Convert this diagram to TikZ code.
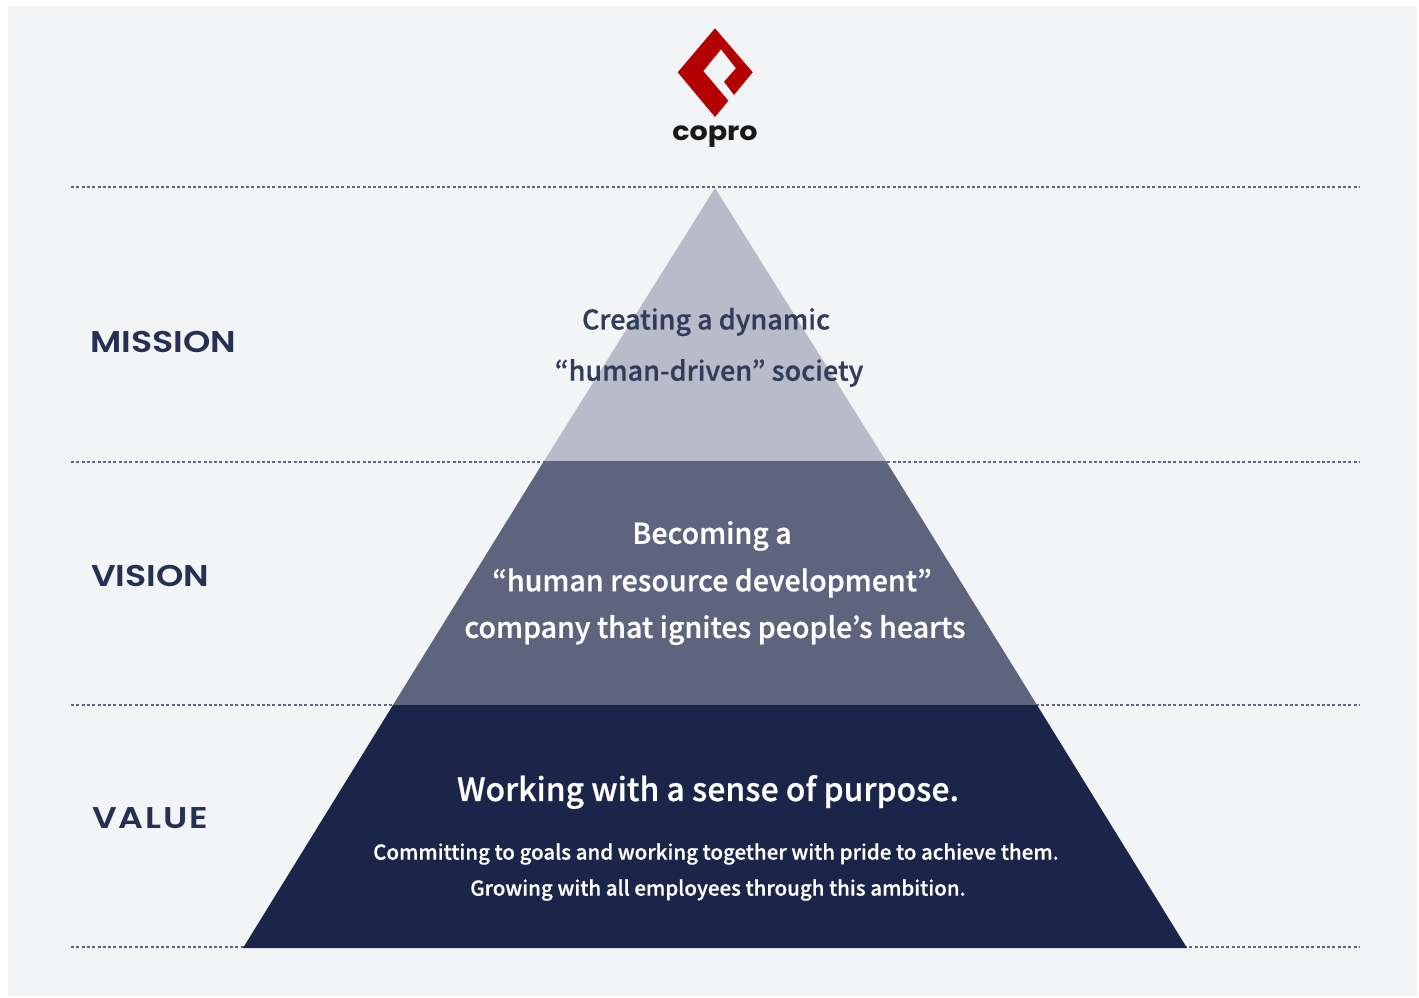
\documentclass[tikz,border=0pt]{standalone}
\usepackage{fontspec}
\setmainfont{Noto Sans CJK JP}[BoldFont={Noto Sans CJK JP Medium},BoldFeatures={FakeBold=0.7}]
\newfontfamily\headfont[FakeStretch=1.16,BoldFont={Poppins SemiBold}]{Poppins}
\newfontfamily\valuefont[FakeStretch=1.16,LetterSpace=6,BoldFont={Poppins SemiBold}]{Poppins}
\newfontfamily\logofont[FakeStretch=1.1]{Poppins}
\definecolor{pagebg}{HTML}{F3F4F6}
\definecolor{navy}{HTML}{1A2549}
\definecolor{midnavy}{HTML}{5E647E}
\definecolor{lightnavy}{HTML}{B8BCC8}
\definecolor{logored}{HTML}{B30000}
\begin{document}
\begin{tikzpicture}[x=1pt,y=-1pt,
  rowline/.style={draw=navy!70,line width=1.3pt,dash pattern=on 3pt off 2.3pt},
  head/.style={font=\headfont\fontsize{30}{33}\selectfont\bfseries,text=navy!95,anchor=west,inner sep=0pt},
  body/.style={font=\fontsize{28.6}{32}\selectfont\bfseries,inner sep=0pt},
]
\useasboundingbox (0,0) rectangle (1419,998);
\fill[white] (0,0) rectangle (1419,998);
\fill[pagebg] (8,6) rectangle (1417,996);
\coordinate (l1) at (71,187); \coordinate (r1) at (1359,187);
\coordinate (l2) at (71,462); \coordinate (r2) at (1359,462);
\coordinate (l3) at (71,705); \coordinate (r3) at (1359,705);
\coordinate (l4) at (71,947); \coordinate (r4) at (1359,947);
\draw[rowline] (l1) -- (r1);
\draw[rowline] (l2) -- (r2);
\draw[rowline] (l3) -- (r3);
\draw[rowline] (l4) -- (r4);
\fill[lightnavy] (715,188) -- (886,461) -- (544,461) -- cycle;
\fill[midnavy] (544,461) -- (886,461) -- (1037,705) -- (393,705) -- cycle;
\fill[navy] (393,705) -- (1037,705) -- (1187,948) -- (243,948) -- cycle;
% logo
\fill[logored] (715,28.3) -- (752.7,72.3) -- (734,95) -- (724,81.7) -- (736,68.3) -- (721,49.3) -- (703.3,71) -- (728.3,100.7) -- (715,117) -- (677.7,72.3) -- cycle;
\node[inner sep=0pt,font=\logofont\fontsize{26}{28}\selectfont\bfseries,text=black!90] (logo) at (715,137) {copro};
\node[head] (mission) at (90,342) {MISSION};
\node[head] (vision) at (91,576) {VISION};
\node[head,font=\valuefont\fontsize{30}{33}\selectfont\bfseries] (value) at (92,818) {VALUE};
\node[body,text=navy!90,font=\fontsize{27}{32}\selectfont\bfseries] (m1) at (706,322) {Creating a dynamic};
\node[body,text=navy!90,font=\fontsize{27}{32}\selectfont\bfseries] (m2) at (709,373) {“human-driven” society};
\node[body,text=white] (v1) at (712,536) {Becoming a};
\node[body,text=white] (v2) at (712,583) {“human resource development”};
\node[body,text=white] (v3) at (715,630) {company that ignites people’s hearts};
\node[body,text=white,font=\fontsize{31.9}{36}\selectfont\bfseries] (w1) at (708,792) {Working with a sense of purpose.};
\node[body,text=white,font=\fontsize{20.5}{26}\selectfont\bfseries] (w2) at (716,854) {Committing to goals and working together with pride to achieve them.};
\node[body,text=white,font=\fontsize{20.5}{26}\selectfont\bfseries] (w3) at (718,890) {Growing with all employees through this ambition.};
\end{tikzpicture}
\end{document}
